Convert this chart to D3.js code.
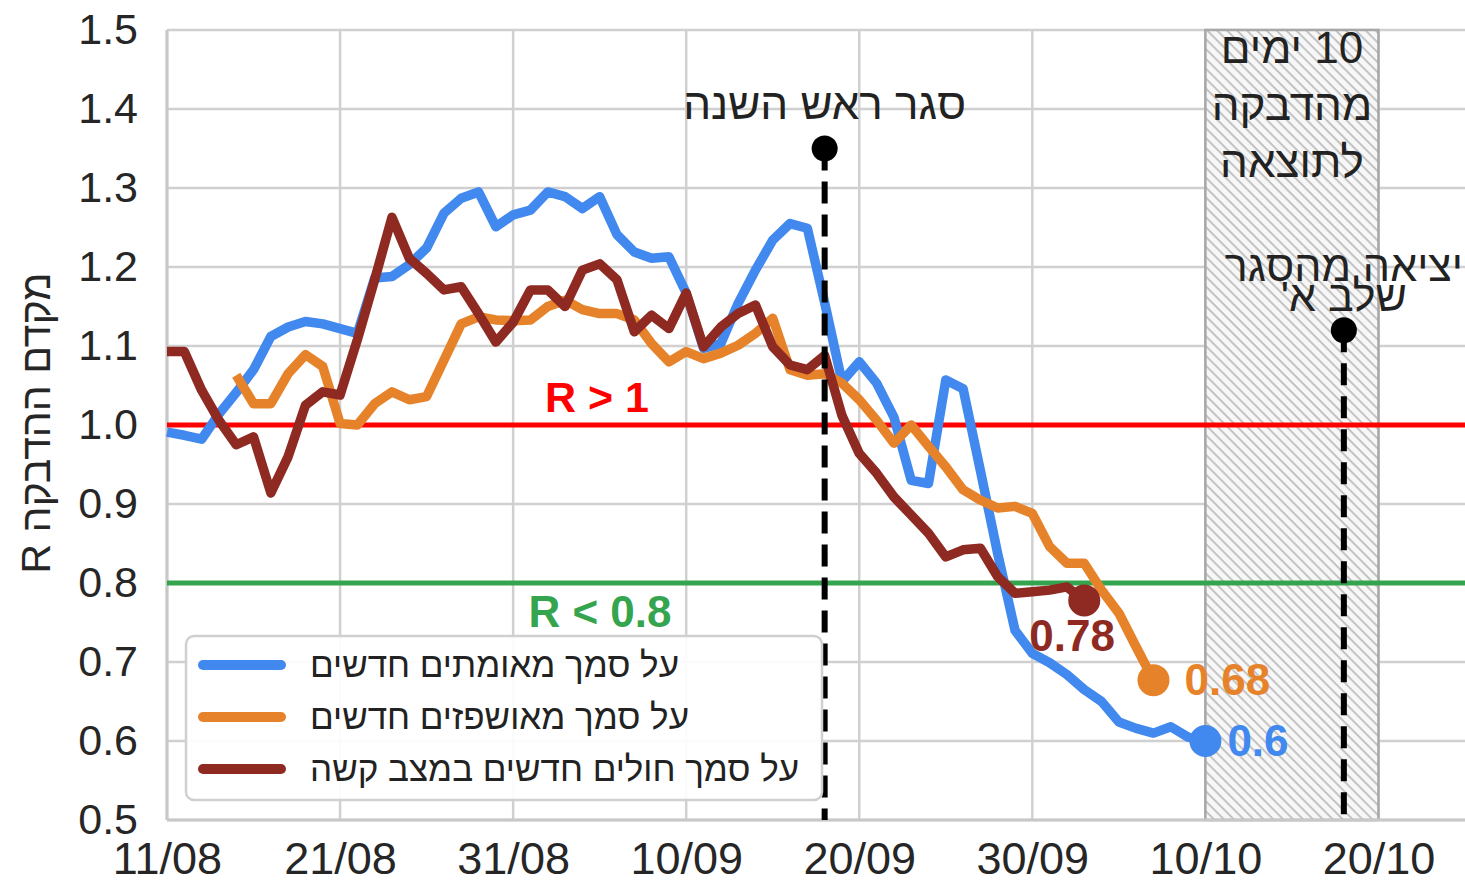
<!DOCTYPE html>
<html>
<head>
<meta charset="utf-8">
<script src="https://cdn.jsdelivr.net/npm/d3@7"></script>
<style>
  body { margin: 0; background: #fff; }
  svg text { font-family: "Liberation Sans", Arial, "DejaVu Sans", sans-serif; }
</style>
</head>
<body>
<script>
// R estimates, one value per day
var blueStart = "2020-08-11";
var blueVals = [0.991, 0.987, 0.982, 1.014, 1.041, 1.070, 1.112, 1.124, 1.131, 1.128,
  1.122, 1.116, 1.186, 1.188, 1.203, 1.224, 1.268, 1.287, 1.295, 1.251,
  1.266, 1.272, 1.295, 1.289, 1.274, 1.289, 1.241, 1.219, 1.211, 1.213,
  1.167, 1.097, 1.103, 1.154, 1.196, 1.234, 1.255, 1.249, 1.155, 1.055,
  1.080, 1.053, 1.010, 0.930, 0.926, 1.057, 1.046, 0.942, 0.837, 0.740,
  0.711, 0.699, 0.684, 0.665, 0.650, 0.624, 0.616, 0.610, 0.618, 0.605, 0.600];

var orangeStart = "2020-08-15";
var orangeVals = [1.063, 1.027, 1.027, 1.065, 1.089, 1.074, 1.002, 1.000, 1.027, 1.042,
  1.032, 1.036, 1.082, 1.128, 1.137, 1.133, 1.132, 1.133, 1.150, 1.158,
  1.146, 1.141, 1.141, 1.133, 1.103, 1.080, 1.093, 1.084, 1.091, 1.101,
  1.116, 1.135, 1.070, 1.063, 1.065, 1.053, 1.032, 1.006, 0.977, 1.000,
  0.973, 0.947, 0.918, 0.905, 0.895, 0.897, 0.888, 0.846, 0.825, 0.825,
  0.791, 0.762, 0.719, 0.677];

var brownStart = "2020-08-11";
var brownVals = [1.093, 1.093, 1.044, 1.006, 0.975, 0.985, 0.914, 0.960, 1.025, 1.042,
  1.038, 1.108, 1.184, 1.263, 1.211, 1.192, 1.171, 1.175, 1.141, 1.105,
  1.130, 1.171, 1.171, 1.150, 1.196, 1.204, 1.184, 1.118, 1.139, 1.122,
  1.167, 1.099, 1.124, 1.141, 1.152, 1.099, 1.076, 1.070, 1.088, 1.012,
  0.964, 0.939, 0.909, 0.886, 0.863, 0.833, 0.842, 0.844, 0.808, 0.787,
  0.789, 0.791, 0.795, 0.778];

var seriesNames = ["על סמך מאומתים חדשים", "על סמך מאושפזים חדשים", "על סמך חולים חדשים במצב קשה"];
var seriesColors = ["#4189ee", "#e6832a", "#8e2a22"];
var endLabels = ["0.6", "0.68", "0.78"];

var xTicks = ["2020-08-11", "2020-08-21", "2020-08-31", "2020-09-10", "2020-09-20", "2020-09-30", "2020-10-10", "2020-10-20"];
var yTicks = [0.5, 0.6, 0.7, 0.8, 0.9, 1.0, 1.1, 1.2, 1.3, 1.4, 1.5];

var closureDate = "2020-09-18", closureTop = 1.35;
var exitDate = "2020-10-18", exitTop = 1.12;
var lagBand = ["2020-10-10", "2020-10-20"];

var parse = d3.timeParse("%Y-%m-%d");
var fmt = d3.timeFormat("%d/%m");

function toPoints(start, vals) {
  var s = parse(start);
  return vals.map(function(v, i) { return {date: d3.timeDay.offset(s, i), v: v}; });
}

var series = [toPoints(blueStart, blueVals), toPoints(orangeStart, orangeVals), toPoints(brownStart, brownVals)];

var W = 1465, H = 882;
var svg = d3.select("body").append("svg").attr("width", W).attr("height", H);

var x = d3.scaleTime().domain([parse("2020-08-11"), parse("2020-10-25")]).range([167, 1465]);
var y = d3.scaleLinear().domain([0.5, 1.5]).range([820, 30]);

// hatch pattern
var defs = svg.append("defs");
var pat = defs.append("pattern").attr("id", "hatch").attr("patternUnits", "userSpaceOnUse")
  .attr("width", 7).attr("height", 7).attr("patternTransform", "rotate(45)");
pat.append("rect").attr("width", 7).attr("height", 7).attr("fill", "#f7f7f7");
pat.append("line").attr("x1", 0).attr("y1", 0).attr("x2", 7).attr("y2", 0)
  .attr("stroke", "#bdbdbd").attr("stroke-width", 3.5);

// grid
svg.append("g").selectAll("line").data(yTicks).enter().append("line")
  .attr("x1", 167).attr("x2", W).attr("y1", function(d) { return y(d); }).attr("y2", function(d) { return y(d); })
  .attr("stroke", "#d0d0d0").attr("stroke-width", 2.5);
svg.append("g").selectAll("line").data(xTicks).enter().append("line")
  .attr("y1", 30).attr("y2", 820).attr("x1", function(d) { return x(parse(d)); }).attr("x2", function(d) { return x(parse(d)); })
  .attr("stroke", "#d0d0d0").attr("stroke-width", 2.5);

// lag band
svg.append("rect")
  .attr("x", x(parse(lagBand[0]))).attr("y", y(1.5))
  .attr("width", x(parse(lagBand[1])) - x(parse(lagBand[0]))).attr("height", y(0.5) - y(1.5))
  .attr("fill", "url(#hatch)").attr("stroke", "#a8a8a8").attr("stroke-width", 2.5);

// axes spines
svg.append("line").attr("x1", 167).attr("x2", 167).attr("y1", 30).attr("y2", 820).attr("stroke", "#c8c8c8").attr("stroke-width", 3);
svg.append("line").attr("x1", 167).attr("x2", W).attr("y1", 820).attr("y2", 820).attr("stroke", "#c8c8c8").attr("stroke-width", 3);

// tick labels
var yAxis = d3.axisLeft(y).tickValues(yTicks).tickFormat(d3.format(".1f")).tickSize(0).tickPadding(29);
var gy = svg.append("g").attr("transform", "translate(167,0)").call(yAxis);
gy.select(".domain").remove();
gy.selectAll("text").attr("font-size", 43).attr("fill", "#262626").attr("font-family", "Liberation Sans, Arial, sans-serif");

var xAxis = d3.axisBottom(x).tickValues(xTicks.map(parse)).tickFormat(fmt).tickSize(0).tickPadding(22);
var gx = svg.append("g").attr("transform", "translate(0,820)").call(xAxis);
gx.select(".domain").remove();
gx.selectAll("text").attr("font-size", 45).attr("fill", "#262626").attr("font-family", "Liberation Sans, Arial, sans-serif");

svg.append("text").attr("transform", "translate(50,423) rotate(-90)")
  .attr("text-anchor", "middle").attr("font-size", 41).attr("fill", "#262626")
  .text("R מקדם ההדבקה");

// threshold lines
svg.append("line").attr("x1", 167).attr("x2", W).attr("y1", y(1.0)).attr("y2", y(1.0)).attr("stroke", "#ff0000").attr("stroke-width", 5);
svg.append("line").attr("x1", 167).attr("x2", W).attr("y1", y(0.8)).attr("y2", y(0.8)).attr("stroke", "#34a54e").attr("stroke-width", 5);
svg.append("text").attr("x", 597).attr("y", 412).attr("text-anchor", "middle").attr("font-size", 43)
  .attr("font-weight", "bold").attr("fill", "#ff0000").text("R > 1");
svg.append("text").attr("x", 600).attr("y", 627).attr("text-anchor", "middle").attr("font-size", 44)
  .attr("font-weight", "bold").attr("fill", "#34a54e").text("R < 0.8");

// series lines
var line = d3.line().x(function(d) { return x(d.date); }).y(function(d) { return y(d.v); });
series.forEach(function(s, i) {
  svg.append("path").datum(s).attr("d", line).attr("fill", "none")
    .attr("stroke", seriesColors[i]).attr("stroke-width", 9.5).attr("stroke-linejoin", "round");
});

// closure markers
[[closureDate, closureTop], [exitDate, exitTop]].forEach(function(m) {
  var cx = x(parse(m[0]));
  svg.append("line").attr("x1", cx).attr("x2", cx).attr("y1", y(m[1])).attr("y2", 820)
    .attr("stroke", "#000").attr("stroke-width", 6).attr("stroke-dasharray", "22,11");
  svg.append("circle").attr("cx", cx).attr("cy", y(m[1])).attr("r", 13).attr("fill", "#000");
});

svg.append("text").attr("x", x(parse(closureDate))).attr("y", 119).attr("text-anchor", "middle")
  .attr("font-size", 44).attr("fill", "#222").text("סגר ראש השנה");

var bandMid = (x(parse(lagBand[0])) + x(parse(lagBand[1]))) / 2;
["10 ימים", "מהדבקה", "לתוצאה"].forEach(function(t, i) {
  svg.append("text").attr("x", bandMid).attr("y", 63 + i * 57).attr("text-anchor", "middle")
    .attr("direction", "rtl").style("direction", "rtl")
    .attr("font-size", 44).attr("fill", "#222").text(t);
});
["יציאה מהסגר", "שלב א'"].forEach(function(t, i) {
  svg.append("text").attr("x", x(parse(exitDate))).attr("y", 281 + i * 30).attr("text-anchor", "middle")
    .attr("direction", "rtl").style("direction", "rtl")
    .attr("font-size", 43).attr("fill", "#222").text(t);
});

// end points
var labelOffsets = [[22, 15], [31, 15], [-55, 51]];
series.forEach(function(s, i) {
  var last = s[s.length - 1];
  svg.append("circle").attr("cx", x(last.date)).attr("cy", y(last.v)).attr("r", 16).attr("fill", seriesColors[i]);
  svg.append("text").attr("x", x(last.date) + labelOffsets[i][0]).attr("y", y(last.v) + labelOffsets[i][1])
    .attr("font-size", 44).attr("font-weight", "bold").attr("fill", seriesColors[i]).text(endLabels[i]);
});

// legend
var lg = svg.append("g");
lg.append("rect").attr("x", 186).attr("y", 636).attr("width", 636).attr("height", 164).attr("rx", 8)
  .attr("fill", "#fff").attr("fill-opacity", 0.9).attr("stroke", "#d0d0d0").attr("stroke-width", 2.5);
seriesNames.forEach(function(n, i) {
  var ly = 665 + i * 52;
  lg.append("line").attr("x1", 203).attr("x2", 281).attr("y1", ly).attr("y2", ly)
    .attr("stroke", seriesColors[i]).attr("stroke-width", 10).attr("stroke-linecap", "round");
  lg.append("text").attr("x", 310).attr("y", ly + 12).attr("font-size", 35).attr("fill", "#222").text(n);
});
</script>
</body>
</html>
